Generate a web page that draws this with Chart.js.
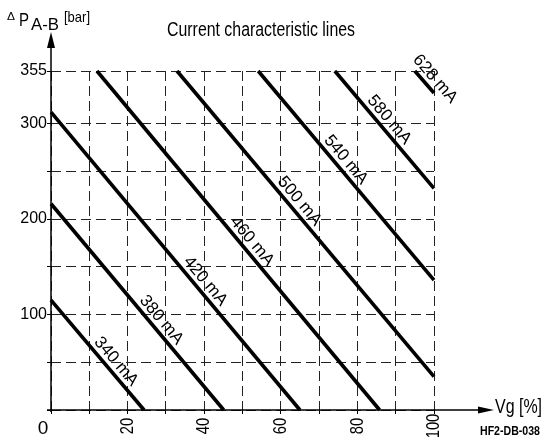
<!DOCTYPE html>
<html>
<head>
<meta charset="utf-8">
<script src="https://cdn.jsdelivr.net/npm/chart.js@4/dist/chart.umd.min.js"></script>
<style>
html,body{margin:0;padding:0;background:#fff;}
#wrap{width:543px;height:439px;}
</style>
</head>
<body>
<div id="wrap"><canvas id="c" width="543" height="439"></canvas></div>
<script>
// ---- data ----
const currents = ['340 mA', '380 mA', '420 mA', '460 mA', '500 mA', '540 mA', '580 mA', '628 mA'];
const startVg  = [0, 0, 0, 12, 32.9, 54.1, 74.1, 95];
const startP   = [115, 216, 312, 355, 355, 355, 355, 355];
const endVg    = [24.3, 45.1, 65, 85.8, 100, 100, 100, 100];
const endP     = [0, 0, 0, 0, 35, 136, 232, 332];
const labelVg  = [15.0, 26.8, 38.3, 50.5, 62.9, 75.0, 86.3, 98.3];
const xGridTicks = [0, 10, 20, 30, 40, 50, 60, 70, 80, 90, 100];
const xTickLabels = [20, 40, 60, 80, 100];
const yGridTicks = [0, 50, 100, 150, 200, 250, 300, 355];
const yTickLabels = [100, 200, 300, 355];

const FONT = 'Liberation Sans, Arial, sans-serif';

const datasets = currents.map((name, i) => ({
  label: name,
  data: [{x: startVg[i], y: startP[i]}, {x: endVg[i], y: endP[i]}],
  showLine: true,
  borderColor: '#000',
  backgroundColor: '#000',
  borderWidth: 3.6,
  pointRadius: 0,
  borderCapStyle: 'butt',
  clip: false
}));

function fitText(ctx, text, font, x, y, width, align) {
  ctx.save();
  ctx.font = font;
  const w = ctx.measureText(text).width;
  const s = width ? width / w : 1;
  ctx.translate(x, y);
  ctx.scale(s, 1);
  ctx.textAlign = align || 'left';
  ctx.textBaseline = 'alphabetic';
  ctx.fillText(text, 0, 0);
  ctx.restore();
}

const decor = {
  id: 'decor',
  afterDatasetsDraw(chart) {
    const ctx = chart.ctx;
    const xs = chart.scales.x, ys = chart.scales.y;
    const x0 = xs.getPixelForValue(0), y0 = ys.getPixelForValue(0);
    ctx.save();
    ctx.fillStyle = '#000';
    ctx.strokeStyle = '#000';
    // axes with arrows
    ctx.lineWidth = 1.5;
    ctx.beginPath();
    ctx.moveTo(x0, y0 + 2);
    ctx.lineTo(x0, 46);
    ctx.moveTo(x0 - 4, y0);
    ctx.lineTo(480, y0);
    ctx.stroke();
    ctx.beginPath();
    ctx.moveTo(x0, 32); ctx.lineTo(x0 - 4, 48); ctx.lineTo(x0 + 4, 48); ctx.closePath(); ctx.fill();
    ctx.beginPath();
    ctx.moveTo(494, y0); ctx.lineTo(478, y0 - 3.5); ctx.lineTo(478, y0 + 3.5); ctx.closePath(); ctx.fill();

    // x tick labels (rotated, centred below the axis)
    xTickLabels.forEach(v => {
      ctx.save();
      ctx.translate(xs.getPixelForValue(v), 426);
      ctx.rotate(-Math.PI / 2);
      ctx.scale(0.78, 1);
      ctx.font = '19px ' + FONT;
      ctx.textAlign = 'center';
      ctx.textBaseline = 'middle';
      ctx.fillText(String(v), 0, 0);
      ctx.restore();
    });

    // line labels
    chart.data.datasets.forEach((ds, i) => {
      const ax = xs.getPixelForValue(startVg[i]), ay = ys.getPixelForValue(startP[i]);
      const bx = xs.getPixelForValue(endVg[i]), by = ys.getPixelForValue(endP[i]);
      const dx = bx - ax, dy = by - ay, len = Math.hypot(dx, dy);
      const ux = dx / len, uy = dy / len;
      const t = (labelVg[i] - startVg[i]) / (endVg[i] - startVg[i]);
      const v = startP[i] + t * (endP[i] - startP[i]);
      const px = xs.getPixelForValue(labelVg[i]) + uy * 10;
      const py = ys.getPixelForValue(v) - ux * 10;
      ctx.save();
      ctx.translate(px, py);
      ctx.rotate(Math.atan2(dy, dx));
      ctx.font = '17px ' + FONT;
      ctx.textAlign = 'center';
      ctx.textBaseline = 'middle';
      ctx.fillText(currents[i], 0, 0);
      ctx.restore();
    });

    // texts
    fitText(ctx, 'Current characteristic lines', '20px ' + FONT, 167, 36, 188);
    fitText(ctx, '\u0394', '11px ' + FONT, 7, 20, 8);
    fitText(ctx, 'P', '19px ' + FONT, 19, 26, 10);
    fitText(ctx, 'A-B', '16px ' + FONT, 31, 30, 28);
    fitText(ctx, '[bar]', '15px ' + FONT, 64, 22, 26);
    fitText(ctx, '0', '19px ' + FONT, 43, 434, 0, 'center');
    fitText(ctx, 'Vg [%]', '20px ' + FONT, 495, 413, 47);
    fitText(ctx, 'HF2-DB-038', 'bold 12px ' + FONT, 480, 435, 60);
    ctx.restore();
  }
};

const gridOpts = {
  color: '#222', lineWidth: 1,
  drawTicks: true, tickLength: 4, tickBorderDash: [0, 0], tickColor: '#000', tickWidth: 1
};

new Chart(document.getElementById('c'), {
  type: 'scatter',
  data: { datasets },
  options: {
    responsive: false,
    animation: false,
    devicePixelRatio: 1,
    layout: { padding: { left: 0, right: 109, top: 71, bottom: 0 } },
    plugins: { legend: { display: false }, title: { display: false }, tooltip: { enabled: false } },
    scales: {
      x: {
        type: 'linear',
        min: 0, max: 100,
        afterBuildTicks: s => { s.ticks = xGridTicks.map(v => ({value: v})); },
        afterFit: s => { s.height = 29; },
        border: { display: false, dash: [10, 5] },
        grid: gridOpts,
        ticks: {
          autoSkip: false, minRotation: 0, maxRotation: 0, padding: 4,
          color: '#000', font: { family: FONT, size: 16 },
          callback: () => ''
        }
      },
      y: {
        type: 'linear',
        min: 0, max: 355,
        afterBuildTicks: s => { s.ticks = yGridTicks.map(v => ({value: v})); },
        afterFit: s => { s.width = 51; },
        border: { display: false, dash: [10, 5] },
        grid: gridOpts,
        ticks: {
          autoSkip: false, padding: 0,
          color: '#000', font: { family: FONT, size: 16 },
          callback: v => yTickLabels.includes(v) ? String(v) : ''
        }
      }
    }
  },
  plugins: [decor]
});
</script>
</body>
</html>
